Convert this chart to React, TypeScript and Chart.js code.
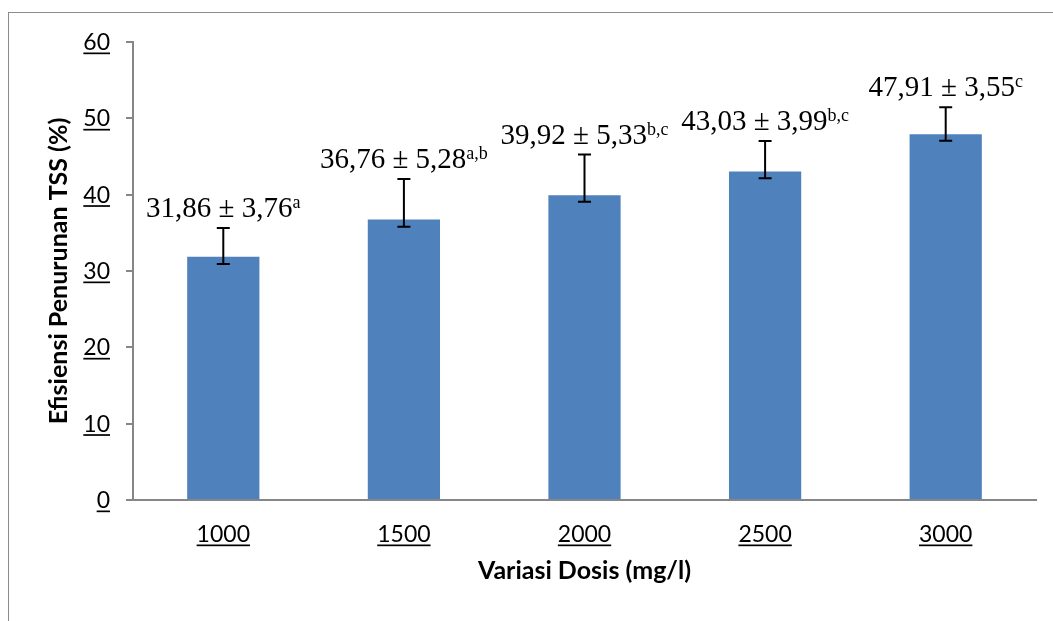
import React, { useEffect, useRef } from "react";
import { Chart, registerables } from "chart.js";

Chart.register(...registerables);

const categories = ["1000", "1500", "2000", "2500", "3000"];
const means = [31.86, 36.76, 39.92, 43.03, 47.91];
const sdPlus = [3.76, 5.28, 5.33, 3.99, 3.55];
const errMinus = [0.94, 0.96, 0.84, 0.89, 0.84];
const letters = ["a", "a,b", "b,c", "b,c", "c"];
const yTicks = [0, 10, 20, 30, 40, 50, 60];
const xTitle = "Variasi Dosis (mg/l)";
const yTitle = "Efisiensi Penurunan TSS (%)";

const fmt = (v: number) => v.toFixed(2).replace(".", ",");

const SANS = "Lato, 'Open Sans', sans-serif";
const SERIF = "'Liberation Serif', 'Times New Roman', serif";

const customPlugin = {
  id: "customDraw",
  afterDatasetsDraw(chart: any) {
    const ctx = chart.ctx;
    const y = chart.scales.y;
    const meta = chart.getDatasetMeta(0);
    ctx.save();
    meta.data.forEach((bar: any, i: number) => {
      const cx = bar.x;
      const top = y.getPixelForValue(means[i] + sdPlus[i]);
      const bot = y.getPixelForValue(means[i] - errMinus[i]);
      ctx.strokeStyle = "#000";
      ctx.lineWidth = 2;
      ctx.beginPath();
      ctx.moveTo(cx, top);
      ctx.lineTo(cx, bot);
      ctx.moveTo(cx - 6.5, top);
      ctx.lineTo(cx + 6.5, top);
      ctx.moveTo(cx - 6.5, bot);
      ctx.lineTo(cx + 6.5, bot);
      ctx.stroke();

      const main = `${fmt(means[i])} ± ${fmt(sdPlus[i])}`;
      ctx.font = `29px ${SERIF}`;
      const w1 = ctx.measureText(main).width;
      ctx.font = `18px ${SERIF}`;
      const w2 = ctx.measureText(letters[i]).width;
      const start = cx - (w1 + w2) / 2;
      const base = top - 11;
      ctx.fillStyle = "#000";
      ctx.textAlign = "left";
      ctx.textBaseline = "alphabetic";
      ctx.font = `29px ${SERIF}`;
      ctx.fillText(main, start, base);
      ctx.font = `18px ${SERIF}`;
      ctx.fillText(letters[i], start + w1, base - 9);
    });
    ctx.restore();
  },
  afterDraw(chart: any) {
    const ctx = chart.ctx;
    const x = chart.scales.x;
    const y = chart.scales.y;
    const area = chart.chartArea;
    ctx.save();
    ctx.fillStyle = "#000";
    ctx.textBaseline = "alphabetic";
    ctx.font = `23px ${SANS}`;
    // y tick labels
    ctx.textAlign = "right";
    yTicks.forEach((v) => {
      const py = y.getPixelForValue(v);
      const label = String(v);
      const w = ctx.measureText(label).width;
      const rx = 102;
      const base = py + 8;
      ctx.fillText(label, rx, base);
      ctx.fillRect(rx - w, base + 2.5, w, 1.7);
    });
    // x tick labels
    ctx.textAlign = "center";
    categories.forEach((c, i) => {
      const px = x.getPixelForValue(i);
      const w = ctx.measureText(c).width;
      const base = area.bottom + 42;
      ctx.fillText(c, px, base);
      ctx.fillRect(px - w / 2, base + 2.5, w, 1.7);
    });
    // titles
    ctx.font = `bold 25px ${SANS}`;
    ctx.textAlign = "center";
    ctx.fillText(xTitle, (area.left + area.right) / 2, area.bottom + 79);
    ctx.translate(59, (area.top + area.bottom) / 2);
    ctx.rotate(-Math.PI / 2);
    ctx.fillText(yTitle, 0, 0);
    ctx.restore();
  },
};

export default function App() {
  const ref = useRef<HTMLCanvasElement | null>(null);
  useEffect(() => {
    if (!ref.current) return;
    const chart = new Chart(ref.current, {
      type: "bar",
      data: {
        labels: categories,
        datasets: [
          {
            data: means,
            backgroundColor: "#4F81BD",
            borderWidth: 0,
            barPercentage: 0.4,
            categoryPercentage: 1,
          },
        ],
      },
      options: {
        animation: false,
        responsive: false,
        layout: { padding: { top: 34, right: 9, left: 0, bottom: 0 } },
        plugins: { legend: { display: false }, tooltip: { enabled: false } },
        scales: {
          x: {
            grid: { display: false },
            border: { display: true, color: "#868686", width: 2 },
            ticks: { display: false },
            afterFit(s: any) {
              s.height = 113;
            },
          },
          y: {
            min: 0,
            max: 60,
            ticks: { display: false, stepSize: 10 },
            grid: {
              drawOnChartArea: false,
              drawTicks: true,
              tickLength: 7,
              color: "#868686",
              lineWidth: 2,
            },
            border: { display: true, color: "#868686", width: 2 },
            afterFit(s: any) {
              s.width = 125;
            },
          },
        },
      },
      plugins: [customPlugin],
    });
    return () => chart.destroy();
  }, []);
  return (
    <>
      <div
        style={{
          position: "fixed",
          left: 8,
          top: 12,
          width: 2000,
          height: 2000,
          borderLeft: "1.5px solid #8c8c8c",
          borderTop: "1.5px solid #8c8c8c",
          pointerEvents: "none",
        }}
      />
      <canvas ref={ref} width={1037} height={605} style={{ display: "block" }} />
    </>
  );
}
